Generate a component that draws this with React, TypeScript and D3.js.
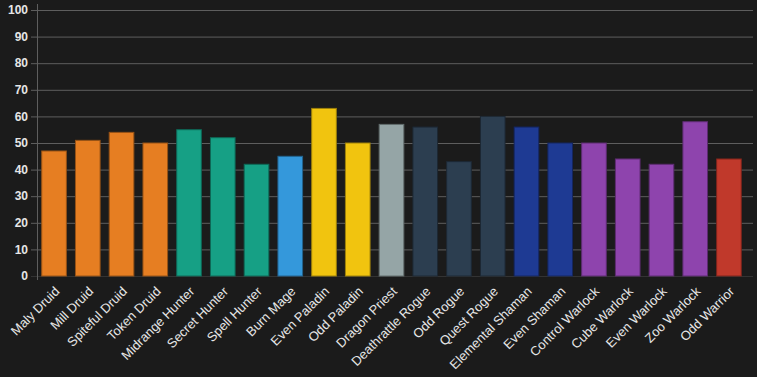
import React from "react";
import * as d3 from "d3";

const categories = ["Maly Druid","Mill Druid","Spiteful Druid","Token Druid","Midrange Hunter","Secret Hunter","Spell Hunter","Burn Mage","Even Paladin","Odd Paladin","Dragon Priest","Deathrattle Rogue","Odd Rogue","Quest Rogue","Elemental Shaman","Even Shaman","Control Warlock","Cube Warlock","Even Warlock","Zoo Warlock","Odd Warrior"];
const values = [47,51,54,50,55,52,42,45,63,50,57,56,43,60,56,50,50,44,42,58,44];
const classes = ["Druid","Druid","Druid","Druid","Hunter","Hunter","Hunter","Mage","Paladin","Paladin","Priest","Rogue","Rogue","Rogue","Shaman","Shaman","Warlock","Warlock","Warlock","Warlock","Warrior"];
const classNames = ["Druid","Hunter","Mage","Paladin","Priest","Rogue","Shaman","Warlock","Warrior"];
const classColors = ["#e67e22","#16a085","#3498db","#f1c40f","#95a5a6","#2c3e50","#1e3a93","#8e44ad","#c0392b"];
const yTicks = [0,10,20,30,40,50,60,70,80,90,100];

export default function App() {
  const W = 757, H = 377;
  const left = 37, right = 746, gridRight = 753, top = 10, bottom = 276;
  const x = d3.scaleBand<string>().domain(categories).range([left, right]).paddingInner(0.27).paddingOuter(0.14);
  const y = d3.scaleLinear().domain([0, 100]).range([bottom, top]);
  const color = d3.scaleOrdinal<string, string>().domain(classNames).range(classColors);
  return (
    <svg width={W} height={H} style={{ position: "absolute", left: 0, top: 0, background: "#1b1b1b", fontFamily: "Liberation Sans, Arial, sans-serif" }}>
      <rect x={0} y={0} width={W} height={H} fill="#1b1b1b" />
      {yTicks.map((t) => (
        <g key={t}>
          <line x1={left - 6} x2={gridRight} y1={y(t) + 0.5} y2={y(t) + 0.5} stroke={t === 0 ? "#333" : "#5e5e5e"} strokeWidth={1} />
          <text x={left - 9} y={y(t)} dy="0.35em" textAnchor="end" fill="#e6e6e6" fontSize={12} fontWeight="bold">{t}</text>
        </g>
      ))}
      <line x1={left + 0.5} x2={left + 0.5} y1={4} y2={bottom + 4} stroke="#5e5e5e" />
      {categories.map((c, i) => {
        const col = color(classes[i]);
        const bx = x(c)!;
        return (
          <rect key={c} x={bx} y={y(values[i])} width={x.bandwidth()} height={bottom - y(values[i])}
            fill={col} stroke={d3.color(col)!.darker(1.2).toString()} strokeWidth={1} />
        );
      })}
      {categories.map((c) => {
        const cx = x(c)! + x.bandwidth() / 2 + 3;
        const cy = bottom + 13;
        return (
          <text key={c} transform={`translate(${cx},${cy}) rotate(-45)`} textAnchor="end" dy="0.35em" fill="#e6e6e6" fontSize={13}>{c}</text>
        );
      })}
    </svg>
  );
}
